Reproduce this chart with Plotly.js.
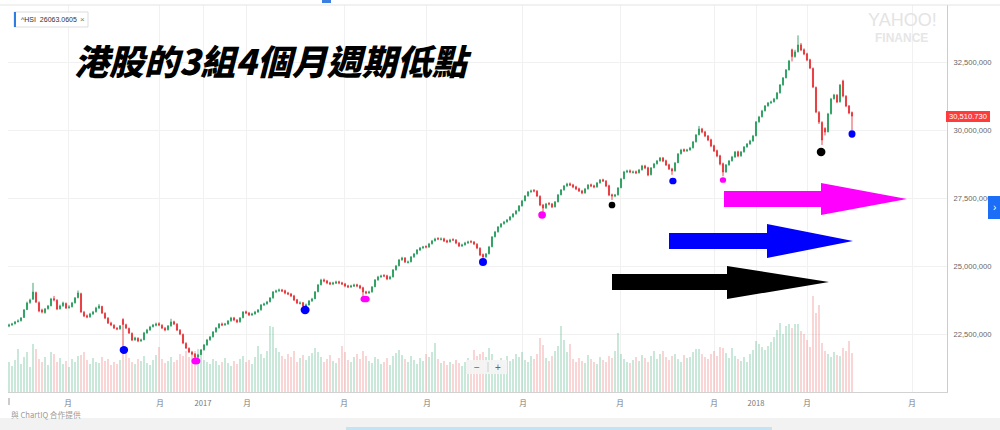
<!DOCTYPE html>
<html><head><meta charset="utf-8">
<script src="https://cdn.plot.ly/plotly-3.0.1.min.js"></script>
<style>html,body{margin:0;padding:0;background:#fff;overflow:hidden}#chart{width:1000px;height:430px;}</style>
</head><body><div id="chart"></div>
<script>
// ---- daily HSI candles (index points) ----
const open = [
22790,22840,22880,22960,22990,23110,23400,23660,23780,24020,
23650,23380,23290,23430,23540,23800,23740,23430,23540,23620,
23470,23500,23650,23840,23980,23300,23170,23130,23240,23320,
23460,23510,23260,23080,22900,22820,22710,22690,23030,22840,
22700,22520,22290,22340,22250,22290,22540,22650,22770,22820,
22880,22820,22710,22660,22800,22950,22860,22640,22480,22150,
21970,21830,21760,21660,21740,21920,22100,22290,22400,22580,
22730,22870,22840,22870,22990,23090,23010,22950,23100,23320,
23270,23200,23240,23310,23390,23570,23610,23690,23830,24050,
24090,24120,24090,24010,23970,23900,23760,23620,23650,23530,
23570,23720,23800,24060,24310,24490,24450,24380,24340,24370,
24420,24380,24340,24270,24230,24260,24310,24270,24200,24050,
24010,24050,24240,24490,24600,24650,24640,24530,24600,24860,
25010,25230,25290,25130,25160,25340,25450,25590,25670,25720,
25700,25820,25930,26010,25980,26000,25930,25890,25970,25950,
25840,25740,25780,25850,25900,25880,25800,25650,25420,25340,
25450,25710,26080,26260,26440,26560,26630,26700,26810,26920,
27030,27210,27400,27580,27730,27780,27750,27560,27240,27140,
27300,27280,27180,27360,27620,27800,27950,28020,27980,27910,
27840,27760,27690,27840,27990,27950,27910,28060,28170,28120,
27950,27620,27570,27620,27880,28210,28460,28500,28440,28470,
28430,28540,28680,28610,28360,28620,28760,28870,28970,28870,
28720,28570,28500,28800,29130,29280,29230,29270,29350,29570,
29830,30040,29930,29780,29640,29420,29240,29050,28760,28460,
28720,28870,29010,29200,29050,29200,29380,29490,29600,29790,
30300,30490,30710,30890,31000,31040,31150,31370,31660,31920,
32210,32950,32700,32880,33130,32950,32800,32580,32260,31560,
30640,30280,30060,29940,30600,31150,31280,31040,31800,31240,30880,30640];
const high = [
22880,22910,22980,23040,23120,23420,23690,23800,24380,24060,
23700,23430,23460,23570,23830,23900,23780,23580,23690,23660,
23560,23680,23860,24100,24020,23350,23220,23280,23350,23500,
23600,23540,23300,23120,22950,22860,22760,22830,23080,22880,
22740,22560,22400,22380,22330,22580,22690,22800,22870,22920,
22930,22860,22760,22830,23060,22990,22900,22680,22520,22200,
22010,21880,21800,21770,21950,22130,22320,22430,22610,22760,
22900,22920,22910,23010,23130,23130,23050,23120,23340,23360,
23310,23280,23350,23420,23600,23650,23720,23860,24080,24130,
24170,24160,24130,24050,24010,23940,23790,23700,23680,23620,
23750,23830,24080,24340,24530,24540,24490,24420,24420,24460,
24460,24420,24380,24310,24310,24350,24350,24310,24240,24090,
24090,24260,24520,24640,24680,24700,24680,24640,24890,25040,
25260,25340,25330,25200,25370,25480,25620,25700,25740,25760,
25850,25960,26040,26060,26050,26040,25970,26000,26020,25990,
25880,25820,25890,25930,25950,25920,25840,25690,25460,25480,
25740,26100,26290,26470,26580,26660,26730,26840,26950,27060,
27240,27430,27610,27760,27810,27830,27790,27600,27280,27320,
27350,27320,27390,27650,27830,27980,28060,28070,28020,27950,
27880,27800,27870,28010,28030,27990,28090,28200,28210,28160,
27990,27660,27650,27900,28240,28500,28540,28550,28510,28510,
28570,28720,28720,28650,28640,28790,28900,29010,29010,28910,
28760,28610,28820,29150,29310,29320,29310,29380,29600,29850,
30150,30080,29970,29820,29680,29460,29280,29090,28800,28750,
28900,29050,29230,29240,29230,29410,29520,29640,29820,30330,
30520,30740,30920,31030,31080,31180,31400,31690,31950,32240,
32580,32990,32950,33480,33200,33000,32840,32620,32300,31600,
30700,30320,30100,30630,31180,31330,31320,31690,31850,31280,30920,30680];
const low = [
22750,22800,22850,22920,22960,23090,23380,23610,23760,23640,
23300,23260,23250,23400,23520,23700,23380,23400,23500,23420,
23430,23480,23620,23810,23280,23120,23080,23100,23200,23290,
23420,23240,23050,22870,22790,22680,22640,22660,22060,22680,
22500,22240,22250,22200,22210,22270,22510,22620,22740,22780,
22790,22680,22600,22630,22770,22830,22610,22460,22130,21950,
21800,21720,21490,21600,21710,21890,22070,22250,22370,22550,
22700,22790,22800,22840,22950,22970,22900,22920,23080,23230,
23160,23170,23210,23280,23360,23530,23580,23660,23800,24010,
24050,24040,23960,23930,23860,23710,23600,23590,23490,23480,
23550,23680,23780,24030,24290,24400,24330,24300,24300,24340,
24330,24300,24220,24190,24200,24230,24220,24150,23860,23960,
23980,24020,24220,24460,24570,24590,24480,24500,24580,24830,
24990,25190,25110,25090,25130,25300,25420,25550,25630,25650,
25670,25790,25900,25950,25940,25880,25840,25860,25920,25800,
25700,25700,25750,25810,25840,25770,25620,25360,25200,25300,
25430,25690,26050,26230,26410,26520,26590,26670,26780,26890,
27000,27190,27380,27550,27690,27710,27540,27200,27000,27100,
27230,27130,27150,27340,27600,27770,27910,27940,27860,27790,
27720,27640,27660,27810,27900,27860,27880,28030,28090,27900,
27570,27430,27530,27590,27860,28190,28420,28410,28400,28380,
28400,28510,28560,28300,28330,28590,28730,28840,28820,28680,
28530,28350,28470,28780,29100,29190,29200,29240,29320,29540,
29800,29880,29740,29590,29370,29190,29000,28700,28300,28430,
28690,28840,28980,29000,29020,29170,29350,29460,29570,29770,
30270,30460,30680,30860,30960,31010,31120,31340,31630,31900,
32190,32520,32660,32850,32900,32750,32530,32240,31540,30620,
30220,29450,29800,29910,30570,31120,30990,31010,31200,30840,30580,30000];
const close = [
22831,22868,22941,22978,23088,23382,23640,23750,24044,23676,
23346,23309,23419,23529,23787,23750,23419,23529,23640,23456,
23493,23640,23824,24007,23309,23162,23125,23235,23309,23456,
23529,23272,23088,22904,22831,22721,22684,22794,22850,22721,
22537,22279,22353,22243,22279,22537,22647,22757,22831,22868,
22831,22721,22647,22794,22941,22868,22647,22500,22169,21985,
21838,21765,21654,21728,21912,22096,22279,22390,22574,22721,
22868,22831,22868,22978,23088,23015,22941,23088,23309,23272,
23199,23235,23309,23382,23566,23603,23676,23824,24044,24081,
24118,24081,24007,23971,23897,23750,23640,23640,23529,23566,
23713,23787,24044,24301,24485,24449,24375,24338,24375,24412,
24375,24338,24265,24228,24265,24301,24265,24191,24044,24007,
24044,24228,24485,24596,24632,24632,24522,24596,24853,25000,
25221,25294,25147,25147,25331,25441,25588,25662,25699,25699,
25809,25919,25993,25993,25993,25919,25882,25956,25956,25846,
25735,25772,25846,25882,25882,25809,25662,25404,25331,25441,
25699,26066,26250,26434,26544,26618,26691,26801,26912,27022,
27206,27390,27574,27721,27757,27757,27574,27243,27132,27279,
27279,27169,27353,27610,27794,27941,28015,27978,27904,27831,
27757,27684,27831,27978,27941,27904,28051,28162,28125,27941,
27610,27574,27610,27868,28199,28456,28493,28456,28456,28419,
28529,28676,28603,28346,28603,28750,28860,28971,28860,28713,
28566,28493,28787,29118,29265,29228,29265,29338,29559,29816,
30037,29926,29779,29632,29412,29228,29044,28750,28456,28713,
28860,29007,29191,29044,29191,29375,29485,29596,29779,30294,
30478,30699,30882,30993,31029,31140,31360,31654,31912,32206,
32537,32700,32868,33125,32941,32794,32574,32279,31581,30662,
30294,29632,29926,30588,31140,31287,31029,31650,31250,30882,30625,30511];
const volume = [
900,780,960,1290,840,1050,1200,750,1440,1290,
990,900,1050,810,1200,1140,900,1020,840,930,
750,990,900,1080,1110,1200,960,840,1020,900,
870,1050,930,990,810,900,840,960,1170,1200,
1020,900,840,990,930,1080,870,810,960,1110,
1350,990,870,930,1050,900,960,1140,1080,1230,
1050,1140,1230,1290,1080,960,900,840,990,930,
810,900,1020,870,780,930,840,990,1080,900,
960,840,1050,1380,1140,1020,1230,1980,1950,1320,
1200,1080,990,1140,1050,1230,900,1020,1110,960,
1080,1170,1320,1200,1050,900,990,1110,930,870,
1020,1380,1200,960,900,1050,1140,990,1230,1080,
930,870,1050,990,840,900,1020,810,1080,1170,
1260,1110,990,900,1080,960,840,1020,930,1140,
1050,1200,1470,990,870,930,810,900,840,960,
870,780,900,1020,930,1260,1080,1140,1200,1050,
1320,1140,960,900,1020,840,1080,930,990,1140,
1050,1200,960,900,1080,990,1140,1620,1410,1020,
930,1080,1230,1380,1980,1560,1200,1440,990,900,
1020,930,870,1110,990,900,840,1050,960,900,
1080,1020,1230,1770,1140,990,900,870,960,1050,
930,1110,1020,900,1080,1230,990,1140,1230,1050,
960,1080,1140,990,900,1110,1020,1050,1200,1290,
1290,1140,1050,990,1140,1230,1080,1350,1320,1170,
1020,1320,1080,990,930,1050,900,1140,1260,1530,
1440,1350,1260,1380,1500,1650,1860,2070,1740,1980,
2040,1920,2040,2040,1830,1740,1560,1350,2880,2370,
2610,1470,1230,1140,1050,1200,1110,1080,1320,1230,1530,1170];

// marked cycle lows (candle index, level, colour)
const dotIdx = [38.3, 62.3, 98.7, 118.7, 158, 177.7, 201, 221.3, 238, 270.7, 281];
const dotVal = [21912, 21507, 23382, 23787, 25147, 26875, 27243, 28125, 28162, 29191, 29853];
const dotColor = ['#0000ff','#ff00ff','#0000ff','#ff00ff','#0000ff','#ff00ff','#000000','#0000ff','#ff00ff','#000000','#0000ff'];

// axis ticks
const yTickVals = [22500, 25000, 27500, 30000, 32500];
const yTickText = ['22,500,000','25,000,000','27,500,000','30,000,000','32,500,000'];
const xTickIdx = [19.67, 50.33, 64.67, 79.33, 111.67, 139.33, 171.33, 203.67, 235, 249, 266, 301];
const xTickText = ['月','月','2017','月','月','月','月','月','月','2018','月','月'];

const title = '港股的3組4個月週期低點';
const legendText = '^HSI  26063.0605';
const lastLabel = '30,510.730';

// ---- styles / geometry ----
const dotSize = [[8.5,8],[9,7],[9,8.3],[9.3,6.7],[8,8],[7.7,7.3],[6.7,6.7],[7.3,6.7],[6.3,5.7],[8.7,8.3],[7,7.3]];
const GREEN = '#2a9d5f', RED = '#e5353b';
const L = 8, R = 947, T = 5, B = 392;
const px = x => (x - L) / (R - L);
const py = y => (B - y) / (B - T);

const idx = close.map((_, i) => i);
const volColors = close.map((c, i) => c >= open[i] ? 'rgba(80,180,135,0.55)' : 'rgba(238,120,120,0.55)');

const traces = [
  {type:'bar', x: idx, y: volume, xaxis:'x', yaxis:'y', width:0.38,
   marker:{color: volColors, line:{width:0}}, hoverinfo:'skip'},
  {type:'candlestick', x: idx, open: open, high: high, low: low, close: close, xaxis:'x', yaxis:'y2',
   whiskerwidth:0,
   increasing:{line:{color:GREEN, width:0.9}, fillcolor:GREEN},
   decreasing:{line:{color:RED, width:0.9}, fillcolor:RED}, hoverinfo:'skip'}
];

const shapes = [];
function rectPx(x0,y0,x1,y1,fill,line){
  shapes.push({type:'rect', xref:'paper', yref:'paper', x0:px(x0), x1:px(x1), y0:py(y1), y1:py(y0),
    fillcolor:fill, line:line||{width:0}, layer:'above'});
}
function arrowPx(bx0, bx1, by0, by1, hy0, hy1, tx, ty, color){
  const pts = [[bx0,by0],[bx1,by0],[bx1,hy0],[tx,ty],[bx1,hy1],[bx1,by1],[bx0,by1]];
  const d = 'M' + pts.map(p => px(p[0]).toFixed(5)+','+py(p[1]).toFixed(5)).join(' L') + ' Z';
  shapes.push({type:'path', xref:'paper', yref:'paper', path:d, fillcolor:color, line:{width:0}, layer:'above'});
}
// frame / page furniture
shapes.push({type:'line', xref:'paper', yref:'paper', x0:px(0), x1:px(1000), y0:py(5), y1:py(5), line:{color:'#e3e3e3', width:1}});
rectPx(0,418,1000,430,'#f2f2f2');
rectPx(346,427,772,430,'#c4e4f4');
rectPx(322,0,331,3,'#3d7fe0');
// cut-off first month label at the left edge
shapes.push({type:'line', xref:'paper', yref:'paper', x0:px(9), x1:px(9), y0:py(398), y1:py(405), line:{color:'#999', width:1}});
// legend chip
rectPx(14,12,88,27,'#ffffff',{color:'#dddddd', width:1});
rectPx(14,12,16,27,'#2f7de1');
// last price label
rectPx(946,111,990,122,'#ff3b3b');
// right tab
rectPx(988,196,1000,219,'#1b6ef5');
// zoom control
rectPx(466,360,507,374,'rgba(244,244,244,0.92)');
shapes.push({type:'line', xref:'paper', yref:'paper', x0:px(488), x1:px(488), y0:py(362), y1:py(372), line:{color:'#cfcfcf', width:1}, layer:'above'});
// arrows
arrowPx(724, 821, 191, 207, 183, 215, 907, 199, '#ff00ff');
arrowPx(669, 767, 233, 249, 224, 258, 853, 241, '#0000ff');
arrowPx(612, 727, 274, 290, 266, 299, 829, 282, '#000000');
// cycle-low dots
dotIdx.forEach((xi, k) => {
  const w = dotSize[k][0], h = dotSize[k][1];
  shapes.push({type:'circle', xref:'x', yref:'y2', xsizemode:'pixel', ysizemode:'pixel',
    xanchor: xi, yanchor: dotVal[k], x0:-w/2, x1:w/2, y0:-h/2, y1:h/2,
    fillcolor: dotColor[k], line:{width:0}, layer:'above'});
});

const SANS = 'Liberation Sans, Arial, sans-serif';
const CJK = 'Noto Sans CJK TC, Noto Sans CJK SC, sans-serif';
function ann(x, y, text, font, extra){
  return Object.assign({xref:'paper', yref:'paper', x:px(x), y:py(y), text:text, showarrow:false,
    xanchor:'left', yanchor:'middle', font:font}, extra||{});
}
const annotations = [
  ann(72, 59, title, {family:CJK, size:35, color:'#000', weight:900, style:'italic'}),
  ann(19, 19.5, legendText, {family:SANS, size:7, color:'#333'}),
  ann(82, 19.5, '×', {family:SANS, size:8, color:'#777'}, {xanchor:'center'}),
  ann(902, 20, 'YAHOO!', {family:SANS, size:18, color:'#e4e4e4'}, {xanchor:'center'}),
  ann(901, 38, 'FINANCE', {family:SANS, size:12, color:'#e6e6e6', weight:700}, {xanchor:'center'}),
  ann(968, 116.5, lastLabel, {family:SANS, size:7.6, color:'#fff'}, {xanchor:'center'}),
  ann(994, 207.5, '›', {family:SANS, size:10, color:'#fff'}, {xanchor:'center'}),
  ann(477, 367, '−', {family:SANS, size:10, color:'#666'}, {xanchor:'center'}),
  ann(497.5, 367, '+', {family:SANS, size:10, color:'#666'}, {xanchor:'center'}),
  ann(9, 414, '與 ChartIQ 合作提供', {family:CJK, size:7.7, color:'#9a9a9a'})
];
const lens = [open.length, high.length, low.length, close.length, volume.length];
if (new Set(lens).size !== 1) annotations.push(ann(400, 200, 'LEN ' + lens.join(','), {size:20, color:'red'}));

const layout = {
  width:1000, height:430, margin:{l:L, r:1000-R, t:T, b:430-B},
  paper_bgcolor:'#fff', plot_bgcolor:'#fff', showlegend:false, boxgap:0.5,
  xaxis:{range:[-0.333, 312.667], tickmode:'array', tickvals:xTickIdx, ticktext:xTickText,
    showgrid:true, gridcolor:'#f1f1f1', gridwidth:1, zeroline:false, showline:true, linecolor:'#d2d2d2',
    ticks:'', ticklabelstandoff:4, tickfont:{family:CJK, size:7.6, color:'#777'},
    rangeslider:{visible:false}, fixedrange:true},
  yaxis:{range:[0, 11610], visible:false, showgrid:false, fixedrange:true},
  yaxis2:{overlaying:'y', side:'right', range:[20368, 34596], tickmode:'array', tickvals:yTickVals, ticktext:yTickText,
    showgrid:true, gridcolor:'#f1f1f1', zeroline:false, showline:true, linecolor:'#cccccc',
    ticks:'', ticklabelstandoff:4, tickfont:{family:SANS, size:7.6, color:'#666'}, fixedrange:true},
  shapes:shapes, annotations:annotations
};
Plotly.newPlot('chart', traces, layout, {staticPlot:true, displayModeBar:false});
</script>
</body></html>
